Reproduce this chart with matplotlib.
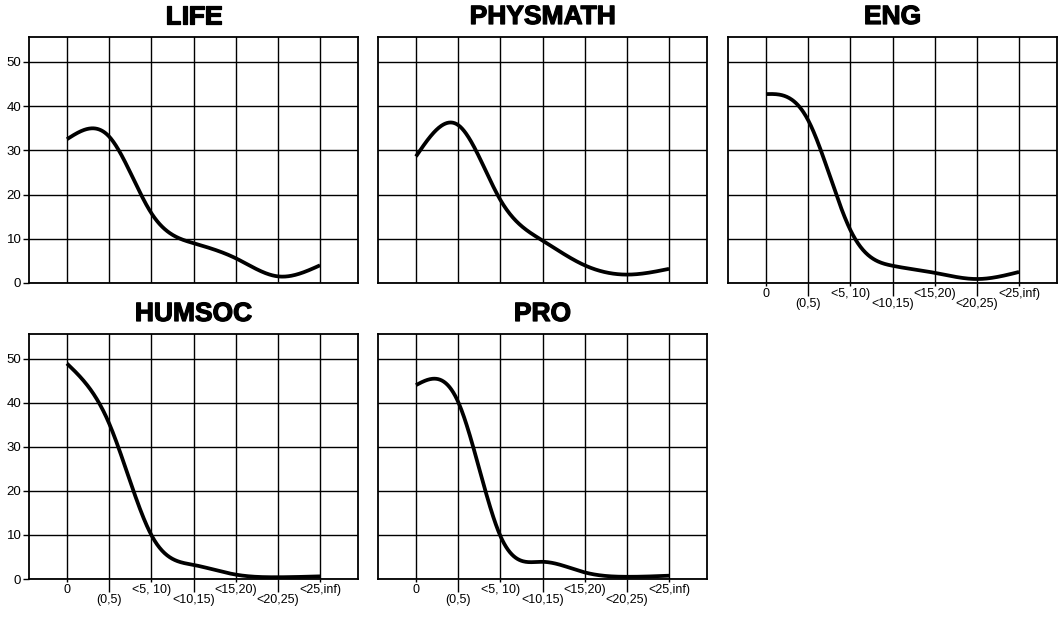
import numpy as np
import matplotlib
matplotlib.use("Agg")
from matplotlib import pyplot as plt
from matplotlib import patheffects

plt.rcParams["font.family"] = ["Liberation Sans", "DejaVu Sans"]

# categories on the x axis
categories = ["0", "(0,5)", "<5, 10)", "<10,15)", "<15,20)", "<20,25)", "<25,inf)"]

# values (percent)
life = [32.5, 33.1, 15.8, 9.0, 5.6, 1.5, 4.0]
physmath = [28.6, 35.7, 18.8, 9.6, 4.0, 1.9, 3.2]
eng = [42.7, 36.8, 12.0, 3.9, 2.3, 0.9, 2.5]
humsoc = [48.9, 35.3, 10.0, 3.2, 1.0, 0.4, 0.6]
pro = [44.0, 40.2, 9.8, 3.9, 1.5, 0.5, 0.75]

titles = ["LIFE", "PHYSMATH", "ENG", "HUMSOC", "PRO"]
series = [life, physmath, eng, humsoc, pro]


def natural_spline(x, y, xs):
    # Natural cubic spline through the points (x, y)
    x = np.asarray(x, float)
    y = np.asarray(y, float)
    n = len(x)
    h = np.diff(x)
    A = np.zeros((n, n))
    b = np.zeros(n)
    A[0, 0] = 1
    A[-1, -1] = 1
    for i in range(1, n - 1):
        A[i, i - 1] = h[i - 1]
        A[i, i] = 2 * (h[i - 1] + h[i])
        A[i, i + 1] = h[i]
        b[i] = 6 * ((y[i + 1] - y[i]) / h[i] - (y[i] - y[i - 1]) / h[i - 1])
    M = np.linalg.solve(A, b)
    idx = np.clip(np.searchsorted(x, xs) - 1, 0, n - 2)
    x0, x1 = x[idx], x[idx + 1]
    hh = x1 - x0
    t0 = x1 - xs
    t1 = xs - x0
    return (M[idx] * t0 ** 3 / (6 * hh) + M[idx + 1] * t1 ** 3 / (6 * hh)
            + (y[idx] / hh - M[idx] * hh / 6) * t0
            + (y[idx + 1] / hh - M[idx + 1] * hh / 6) * t1)


W, H = 1061, 624
fig = plt.figure(figsize=(W / 100, H / 100), dpi=100)

# panel boxes in pixels: left, top, right, bottom
boxes = [
    (29, 37, 358, 283),
    (378, 37, 707, 283),
    (728, 37, 1057, 283),
    (29, 334, 358, 579),
    (378, 334, 707, 579),
]
show_y = [True, False, False, True, False]
show_x = [False, False, True, True, True]

xpos = np.arange(len(categories))
xs = np.linspace(0, len(categories) - 1, 400)

for title, vals, box, sy, sx in zip(titles, series, boxes, show_y, show_x):
    l, t, r, b = box
    ax = fig.add_axes([l / W, 1 - b / H, (r - l) / W, (b - t) / H])
    ax.plot(xs, natural_spline(xpos, vals, xs), color="black", lw=2.7,
            solid_capstyle="butt", zorder=3)
    ax.set_xlim(-0.9, 6.9)
    ax.set_ylim(0, 55.6)

    ax.set_yticks([0, 10, 20, 30, 40, 50])
    ax.set_xticks(xpos[::2])
    ax.set_xticks(xpos[1::2], minor=True)
    ax.grid(which="both", color="black", lw=1.0)
    ax.set_axisbelow(True)
    for s in ax.spines.values():
        s.set_linewidth(1.3)

    if sy:
        ax.tick_params(axis="y", length=4.5, width=1.0, pad=1, labelsize=9.5)
    else:
        ax.tick_params(axis="y", length=0, labelleft=False)

    if sx:
        ax.set_xticklabels(categories[::2])
        ax.set_xticklabels(categories[1::2], minor=True)
        ax.tick_params(axis="x", which="major", length=2.5, width=1.0, pad=1,
                       labelsize=9)
        ax.tick_params(axis="x", which="minor", length=9.5, width=1.0, pad=1,
                       labelsize=9)
    else:
        ax.tick_params(axis="x", which="both", length=0, labelbottom=False)

    fig.text((l + r) / 2 / W, 1 - (t - 20) / H, title, ha="center", va="center",
             fontsize=19, fontweight="bold",
             path_effects=[patheffects.withStroke(linewidth=0.9, foreground="black")])

fig.savefig("out.png", dpi=100)
